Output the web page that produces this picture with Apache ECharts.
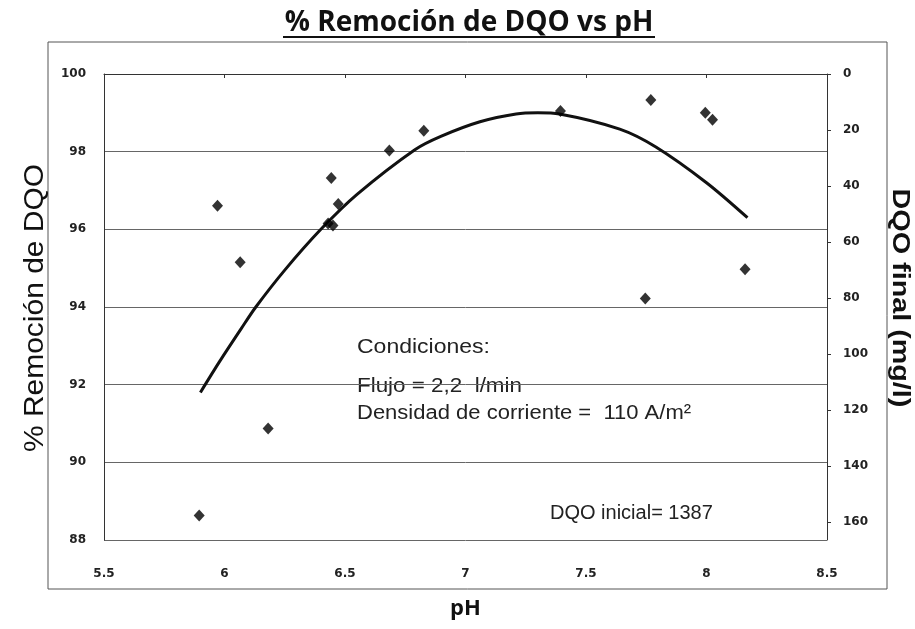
<!DOCTYPE html>
<html>
<head>
<meta charset="utf-8">
<script src="https://cdn.jsdelivr.net/npm/echarts@6/dist/echarts.min.js"></script>
<style>html,body{margin:0;padding:0;background:#fff}#c{width:915px;height:629px}</style>
</head>
<body>
<div id="c"></div>
<script>
// Measured data points: [pH, % removal]
var scatterPH  = [5.895, 5.971, 6.065, 6.181, 6.430, 6.450, 6.443, 6.472, 6.684, 6.827, 7.394, 7.746, 7.769, 7.995, 8.025, 8.160];
var scatterPct = [88.63, 96.61, 95.15, 90.87, 96.15, 96.10, 97.32, 96.65, 98.03, 98.54, 99.05, 94.22, 99.33, 99.00, 98.82, 94.97];
// Trend line
var trendPH  = [5.90, 5.98, 6.07, 6.13, 6.25, 6.40, 6.55, 6.79, 6.90, 7.06, 7.21, 7.30, 7.39, 7.64, 7.79, 8.00, 8.17];
var trendPct = [91.8, 92.6, 93.45, 94.0, 94.95, 96.0, 96.9, 98.05, 98.4, 98.77, 98.97, 99.0, 98.97, 98.58, 98.12, 97.2, 96.3];
var dqoInicial = 1387;
var leftTicks = [88, 90, 92, 94, 96, 98, 100];
var rightTicks = [0, 20, 40, 60, 80, 100, 120, 140, 160];
var xTicks = [5.5, 6, 6.5, 7, 7.5, 8, 8.5];

var chart = echarts.init(document.getElementById('c'));
var scatterData = scatterPH.map(function (x, i) { return [x, scatterPct[i]]; });
var trendData = trendPH.map(function (x, i) { return [x, trendPct[i]]; });
var rightMax = dqoInicial * (100 - leftTicks[0]) / 100;

var labelFont = { fontFamily: 'DejaVu Sans', fontWeight: 'bold', fontSize: 12, color: '#222' };
var annFont = '20px "Liberation Sans"';

chart.setOption({
  animation: false,
  backgroundColor: '#fff',
  grid: { left: 104, right: 88, top: 74, bottom: 89 },
  xAxis: {
    type: 'value', min: xTicks[0], max: xTicks[xTicks.length - 1], interval: 0.5,
    name: 'pH', nameLocation: 'middle', nameGap: 58,
    nameTextStyle: { fontFamily: 'Open Sans', fontWeight: 'bold', fontSize: 22, color: '#111' },
    axisLine: { show: true, lineStyle: { color: '#333', width: 1 } },
    axisTick: { show: true, length: 4, lineStyle: { color: '#333' } },
    splitLine: { show: false },
    axisLabel: Object.assign({ margin: 28 }, labelFont)
  },
  yAxis: [{
    type: 'value', min: leftTicks[0], max: leftTicks[leftTicks.length - 1], interval: 2,
    axisLine: { show: true, lineStyle: { color: '#333', width: 1 } },
    axisTick: { show: false },
    splitLine: { show: true, lineStyle: { color: '#666', width: 1 } },
    axisLabel: Object.assign({ margin: 18 }, labelFont)
  }, {
    type: 'value', min: 0, max: rightMax, interval: 20, inverse: true, position: 'right',
    axisLine: { show: true, lineStyle: { color: '#333', width: 1 } },
    axisTick: { show: true, length: 4, lineStyle: { color: '#333' } },
    splitLine: { show: false },
    axisLabel: Object.assign({ margin: 16, showMaxLabel: false,
      formatter: function (v) { return rightTicks.indexOf(v) >= 0 ? String(v) : ''; } }, labelFont)
  }],
  graphic: [
    { type: 'rect', shape: { x: 48, y: 42, width: 839, height: 547 }, style: { fill: 'none', stroke: '#555', lineWidth: 1 }, silent: true },
    { type: 'text', x: 469, y: 23, style: { text: '% Remoción de DQO vs pH', font: 'bold 28px "Open Sans"', fill: '#111', align: 'center', verticalAlign: 'middle' } },
    { type: 'line', shape: { x1: 283, y1: 37, x2: 655, y2: 37 }, style: { stroke: '#111', lineWidth: 2 }, z: 10 },
    { type: 'text', x: 35, y: 308, rotation: Math.PI / 2, scaleX: 1.07, style: { text: '% Remoción de DQO', font: '28px "Liberation Sans"', fill: '#111', align: 'center', verticalAlign: 'middle' } },
    { type: 'text', x: 899, y: 298, rotation: -Math.PI / 2, scaleX: 1.25, style: { text: 'DQO final (mg/l)', font: 'bold 23px "Liberation Sans"', fill: '#111', align: 'center', verticalAlign: 'middle' } },
    { type: 'text', x: 357, y: 347, scaleX: 1.15, style: { text: 'Condiciones:', font: annFont, fill: '#222', verticalAlign: 'middle' } },
    { type: 'text', x: 357, y: 386, scaleX: 1.12, style: { text: 'Flujo = 2,2  l/min', font: annFont, fill: '#222', verticalAlign: 'middle' } },
    { type: 'text', x: 357, y: 413, scaleX: 1.1, style: { text: 'Densidad de corriente =  110 A/m²', font: annFont, fill: '#222', verticalAlign: 'middle' } },
    { type: 'text', x: 550, y: 513, style: { text: 'DQO inicial= 1387', font: annFont, fill: '#222', verticalAlign: 'middle' } }
  ],
  series: [{
    type: 'line', data: trendData, yAxisIndex: 0, smooth: 0.3, showSymbol: false,
    lineStyle: { color: '#111', width: 3 }, z: 3
  }, {
    type: 'scatter', data: scatterData, yAxisIndex: 0, symbol: 'diamond', symbolSize: [11, 12],
    itemStyle: { color: '#000' }, z: 4
  }]
});
</script>
</body>
</html>
